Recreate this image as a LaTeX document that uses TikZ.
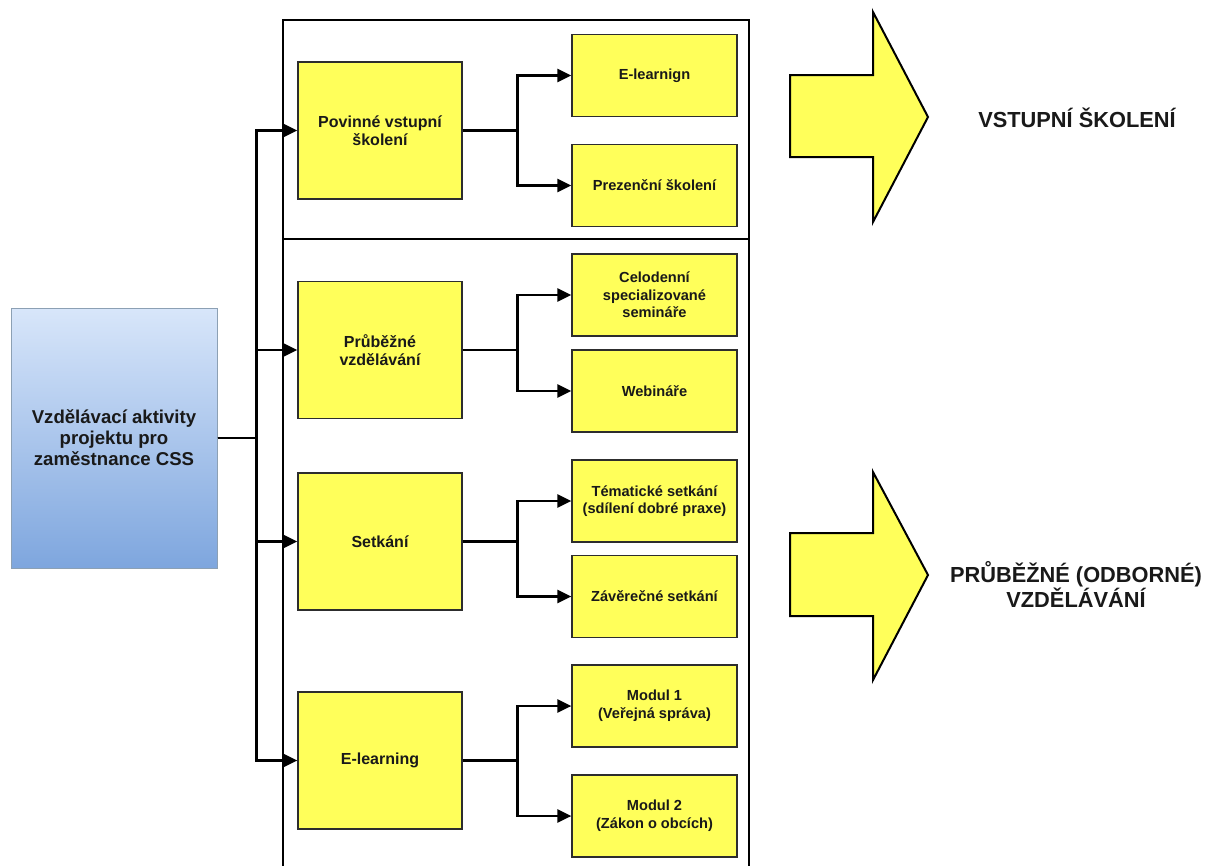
\documentclass[tikz,border=0pt]{standalone}
\usepackage{fontspec}
\setmainfont{Liberation Sans}
\usetikzlibrary{arrows.meta}
\definecolor{boxyellow}{RGB}{255,255,90}
\definecolor{bluetop}{RGB}{216,230,250}
\definecolor{bluebot}{RGB}{126,166,222}
\definecolor{blueedge}{RGB}{140,160,180}
\definecolor{boxedge}{RGB}{45,45,45}
\definecolor{inkcol}{RGB}{25,25,25}
\tikzset{
  midbox/.style={draw=boxedge, line width=1.2pt, fill=boxyellow, minimum width=164pt, minimum height=137pt, align=center, font=\bfseries\fontsize{16}{18}\selectfont, text=inkcol, inner sep=0pt},
  leafbox/.style={draw=boxedge, line width=1.2pt, fill=boxyellow, minimum width=165pt, minimum height=82pt, align=center, font=\bfseries\fontsize{14.6}{17.6}\selectfont, text=inkcol, inner sep=0pt},
  conn/.style={line width=2.6pt, black},
  arr/.style={conn, -{Triangle[length=14pt,width=13pt]}},
  frame/.style={line width=2.6pt, black},
  bigarrow/.style={draw=black, line width=2pt, fill=boxyellow, line join=miter},
  biglabel/.style={align=center, text=inkcol, font=\bfseries\fontsize{21.8}{22.5}\selectfont}
}
\begin{document}
\begin{tikzpicture}[x=1pt,y=-1pt]
\useasboundingbox (0,0) rectangle (1205,865);
% frame
\draw[frame] (283,870) -- (283,20) -- (749,20) -- (749,870);
\draw[frame] (283,239) -- (749,239);
% main box
\node[draw=blueedge, line width=1pt, top color=bluetop, bottom color=bluebot, minimum width=206pt, minimum height=260pt, align=center, inner sep=0pt, text=inkcol, font=\bfseries\fontsize{18.6}{21}\selectfont] (main) at (114,438) {Vzdělávací aktivity\\projektu pro\\zaměstnance CSS};
% middle boxes
\node[midbox] (pov) at (380,130.5) {Povinné vstupní\\školení};
\node[midbox] (prub) at (380,350) {Průběžné\\vzdělávání};
\node[midbox] (setk) at (380,541.5) {Setkání};
\node[midbox] (elrn) at (380,760.5) {E-learning};
% leaf boxes
\node[leafbox] (elg) at (654.5,75.5) {E-learnign};
\node[leafbox] (prez) at (654.5,185.5) {Prezenční školení};
\node[leafbox] (celo) at (654.5,295) {Celodenní\\specializované\\semináře};
\node[leafbox] (web) at (654.5,391) {Webináře};
\node[leafbox] (tem) at (654.5,501) {Tématické setkání\\(sdílení dobré praxe)};
\node[leafbox] (zav) at (654.5,596.5) {Závěrečné setkání};
\node[leafbox] (mod1) at (654.5,706) {Modul 1\\(Veřejná správa)};
\node[leafbox] (mod2) at (654.5,816) {Modul 2\\(Zákon o obcích)};
% trunk connectors
\foreach \t in {pov,prub,setk,elrn}{
  \draw[arr] (main.east) -- ++(39,0) |- (\t.west);
}
% branch connectors
\draw[arr] (pov.east) -- ++(55,0) |- (elg.west);
\draw[arr] (pov.east) -- ++(55,0) |- (prez.west);
\draw[arr] (prub.east) -- ++(55,0) |- (celo.west);
\draw[arr] (prub.east) -- ++(55,0) |- (web.west);
\draw[arr] (setk.east) -- ++(55,0) |- (tem.west);
\draw[arr] (setk.east) -- ++(55,0) |- (zav.west);
\draw[arr] (elrn.east) -- ++(55,0) |- (mod1.west);
\draw[arr] (elrn.east) -- ++(55,0) |- (mod2.west);
% big arrows
\draw[bigarrow] (790,75) -- (873,75) -- (873,12) -- (928,117) -- (873,222) -- (873,157) -- (790,157) -- cycle;
\draw[bigarrow] (790,533) -- (873,533) -- (873,472) -- (928,575) -- (873,680) -- (873,616) -- (790,616) -- cycle;
\node[biglabel] (lab1) at (1077,118) {VSTUPNÍ ŠKOLENÍ};
\node[biglabel] (lab2) at (1076,584) {PRŮBĚŽNÉ (ODBORNÉ)\\VZDĚLÁVÁNÍ};
\end{tikzpicture}
\end{document}
